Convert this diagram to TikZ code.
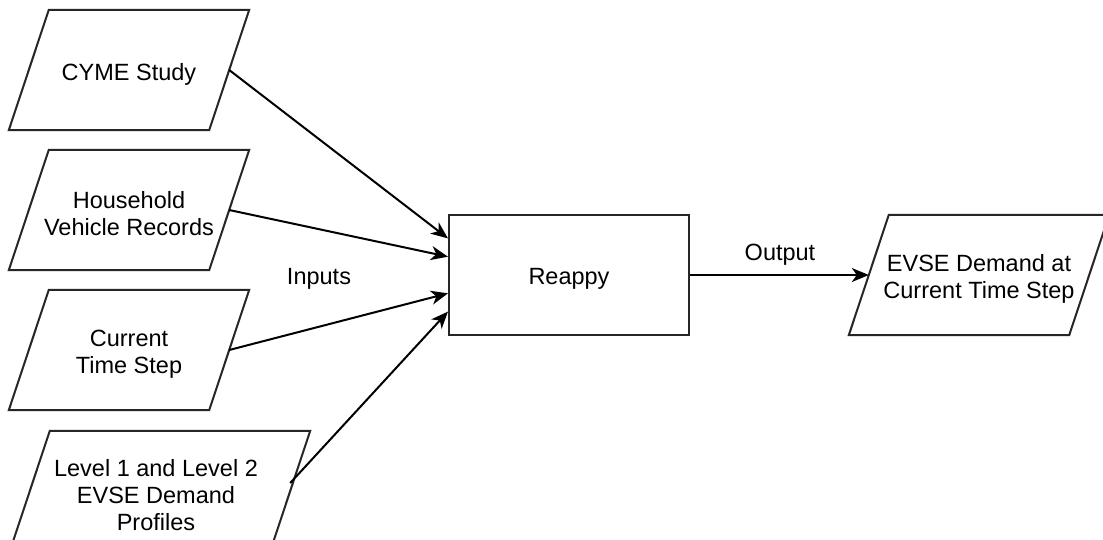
\documentclass[tikz,border=0pt]{standalone}
\usepackage{fontspec}
\setmainfont{Liberation Sans}
\usetikzlibrary{arrows.meta,calc}
\begin{document}
\begin{tikzpicture}[x=1pt,y=-1pt,
  every node/.style={font=\fontsize{23.5}{27}\selectfont, align=center, inner sep=0pt},
  iobox/.style={minimum width=200pt, minimum height=120pt},
  caption/.style={yshift=-4pt},
  slant/.style={line width=2pt, line join=miter, draw=black!85},
  procbox/.style={draw=black!85, line width=2pt, minimum width=240pt, minimum height=120pt},
  link/.style={line width=2pt, -{Stealth[length=17pt,width=14pt,inset=5pt]}}]
\clip (0,0) rectangle (1103,539);
\fill[white] (0,0) rectangle (1103,539);

% input and output data blocks (frames; slanted outlines drawn below)
\node[iobox] (cyme) at (129,70) {};
\node[iobox] (house) at (129,210) {};
\node[iobox] (tstep) at (129,350) {};
\node[iobox, minimum width=260pt] (profiles) at (160,491) {};
\node[iobox, minimum width=220pt] (demand) at (979,275) {};

\foreach \n in {cyme,house,tstep,profiles,demand}
  \draw[slant] ([xshift=20pt]\n.north west) -- ([xshift=20pt]\n.north east)
     -- ([xshift=-20pt]\n.south east) -- ([xshift=-20pt]\n.south west) -- cycle;

% block texts
\node[caption] (cymetxt) at (cyme.center) {CYME Study};
\node[caption] (housetxt) at (house.center) {Household\\Vehicle Records};
\node[caption] (tsteptxt) at (tstep.center) {Current\\Time Step};
\node[caption] (profilestxt) at ([xshift=-4pt]profiles.center) {Level 1 and Level 2\\EVSE Demand\\Profiles};
\node[caption] (demandtxt) at (demand.center) {EVSE Demand at\\Current Time Step};

% process
\node[procbox] (reappy) at (569,275) {};
\node[caption] (reappytxt) at (reappy.center) {Reappy};

% labels
\node (inputs) at (319,279) {Inputs};
\node (outlbl) at (780,255) {Output};

% connectors
\draw[link] (cyme.east) -- ($(reappy.north west)!0.2!(reappy.south west)$);
\draw[link] (house.east) -- ($(reappy.north west)!0.35!(reappy.south west)$);
\draw[link] (tstep.east) -- ($(reappy.north west)!0.65!(reappy.south west)$);
\draw[link] ([yshift=8pt]profiles.east) -- ($(reappy.north west)!0.8!(reappy.south west)$);
\draw[link] (reappy.east) -- (demand.west);
\end{tikzpicture}
\end{document}
